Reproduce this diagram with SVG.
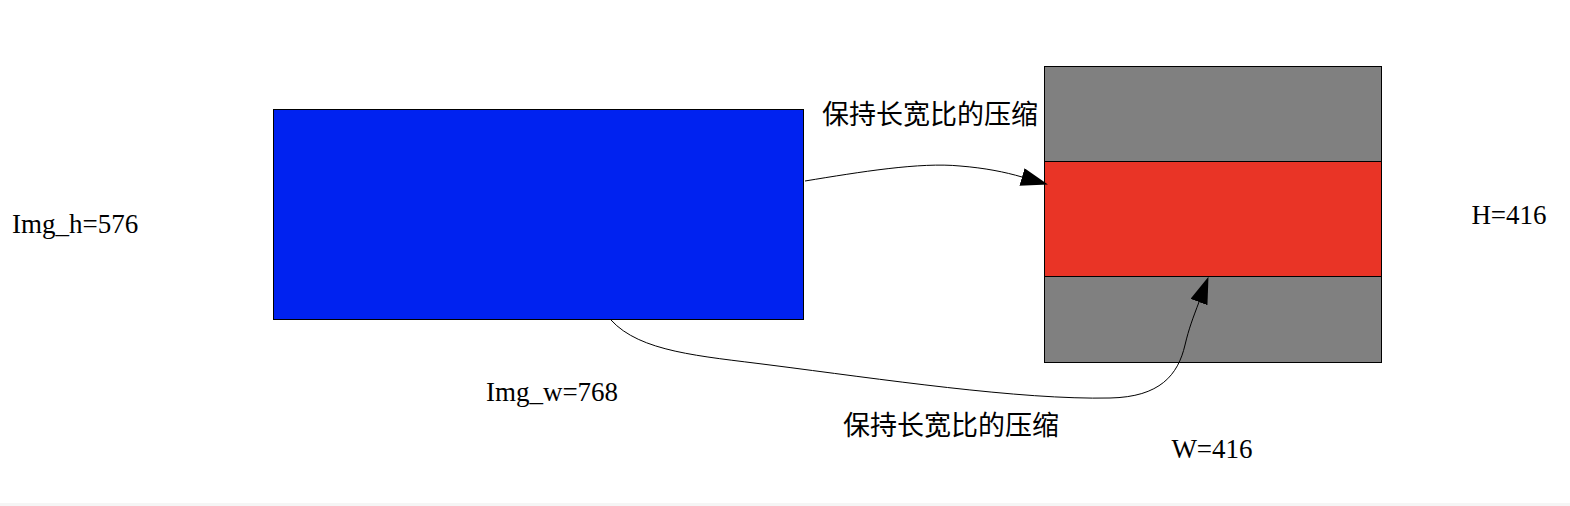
<svg xmlns="http://www.w3.org/2000/svg" width="1570" height="506" viewBox="0 0 1570 506">
  <style>
    .lbl { font-family: "Liberation Serif", "Times New Roman", serif; font-size: 27px; fill: #000; }
    .cjk { font-family: "Noto Sans CJK SC", "Noto Sans", sans-serif; font-size: 27px; fill: #000; }
    .box { stroke: #000; stroke-width: 1; }
    .edge { fill: none; stroke: #000; stroke-width: 1; }
  </style>
  <defs>
    <marker id="arrow" markerUnits="userSpaceOnUse" markerWidth="28" markerHeight="20" refX="0" refY="9" orient="auto">
      <polygon points="0,0 27,9 0,18" fill="#000"/>
    </marker>
  </defs>
  <rect x="0" y="0" width="1570" height="506" fill="#fff"/>
  <rect x="0" y="503" width="1570" height="3" fill="#f5f5f5"/>

  <g id="node-img">
    <rect class="box" x="273.5" y="109.5" width="530" height="210" fill="#0022f0"/>
  </g>
  <g id="node-canvas">
    <rect class="box" x="1044.5" y="66.5" width="337" height="296" fill="#808080"/>
  </g>
  <g id="node-resized">
    <rect class="box" x="1044.5" y="161.5" width="337" height="115" fill="#e93426"/>
  </g>

  <g id="label-img-h"><text class="lbl" x="12" y="233">Img_h=576</text></g>
  <g id="label-img-w"><text class="lbl" x="552" y="401" text-anchor="middle">Img_w=768</text></g>
  <g id="label-H"><text class="lbl" x="1509" y="224" text-anchor="middle">H=416</text></g>
  <g id="label-W"><text class="lbl" x="1212" y="458" text-anchor="middle">W=416</text></g>

  <g id="connectors">
    <path class="edge" d="M805,181 C860,172 920,162 960,166 C985,168 1005,172 1022,177" marker-end="url(#arrow)"/>
    <path class="edge" d="M611,320 C640,352 700,356 770,365 C880,379 1020,400 1110,398 C1160,397 1178,375 1185,345 C1189,328 1193,318 1199,302" marker-end="url(#arrow)"/>
    <text class="cjk" x="930" y="124" text-anchor="middle">保持长宽比的压缩</text>
    <text class="cjk" x="951" y="435" text-anchor="middle">保持长宽比的压缩</text>
  </g>
</svg>
